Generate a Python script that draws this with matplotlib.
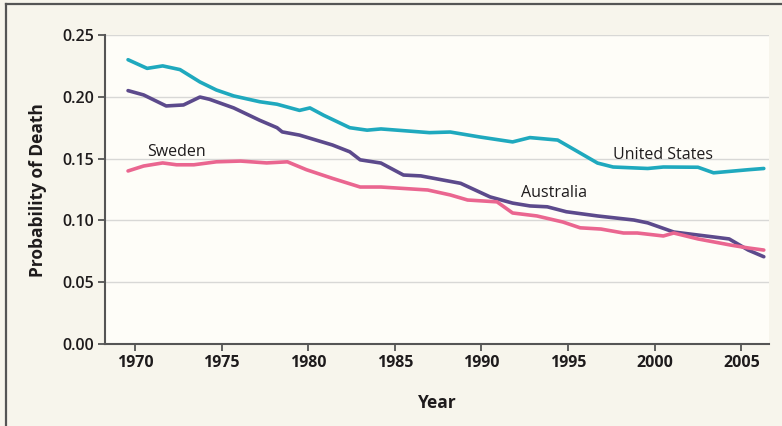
import matplotlib
matplotlib.use("Agg")
import matplotlib.pyplot as plt
from matplotlib.lines import Line2D

# ---- data ----
us_years = [1969.6, 1970.7, 1971.6, 1972.6, 1973.75, 1974.7, 1975.7, 1977.2, 1978.2, 1979.5,
            1980.1, 1980.9, 1982.4, 1983.4, 1984.2, 1987.0, 1988.2, 1989.9, 1991.8, 1992.8,
            1994.4, 1995.7, 1996.7, 1997.6, 1999.6, 2000.5, 2002.5, 2003.4, 2005.4, 2006.3]
us_vals = [0.230, 0.223, 0.225, 0.222, 0.212, 0.2055, 0.2007, 0.196, 0.194, 0.189,
           0.191, 0.185, 0.175, 0.173, 0.174, 0.171, 0.1715, 0.1675, 0.1635, 0.167,
           0.165, 0.1545, 0.1464, 0.1432, 0.142, 0.1432, 0.143, 0.1385, 0.141, 0.142]

au_years = [1969.6, 1970.5, 1971.8, 1972.8, 1973.75, 1974.3, 1975.7, 1977.2, 1978.2, 1978.5,
            1979.5, 1981.4, 1982.4, 1983.0, 1984.2, 1985.5, 1986.5, 1988.8, 1990.5, 1991.8,
            1992.8, 1993.8, 1994.9, 1996.7, 1998.8, 1999.6, 2001.1, 2003.4, 2004.3, 2005.4, 2006.3]
au_vals = [0.205, 0.2015, 0.1926, 0.1934, 0.1998, 0.198, 0.191, 0.181, 0.175, 0.1716,
           0.169, 0.161, 0.1555, 0.149, 0.1464, 0.1367, 0.136, 0.130, 0.119, 0.114,
           0.1117, 0.111, 0.107, 0.1036, 0.1003, 0.098, 0.0906, 0.0866, 0.085, 0.076, 0.0706]

se_years = [1969.6, 1970.5, 1971.6, 1972.4, 1973.4, 1974.7, 1976.1, 1977.6, 1978.8, 1979.9,
            1981.4, 1983.0, 1984.2, 1986.9, 1988.2, 1989.2, 1990.9, 1991.8, 1993.2, 1994.7,
            1995.7, 1996.9, 1998.2, 1999.0, 2000.5, 2001.1, 2002.5, 2004.4, 2005.4, 2006.3]
se_vals = [0.140, 0.144, 0.1465, 0.145, 0.145, 0.1474, 0.148, 0.1465, 0.1474, 0.141,
           0.134, 0.127, 0.127, 0.1246, 0.1206, 0.1165, 0.115, 0.106, 0.1036, 0.0987,
           0.094, 0.093, 0.0898, 0.0898, 0.0874, 0.0898, 0.085, 0.080, 0.0777, 0.076]

x_ticks = [1970, 1975, 1980, 1985, 1990, 1995, 2000, 2005]
y_ticks = [0.00, 0.05, 0.10, 0.15, 0.20, 0.25]
y_tick_labels = ["0.00", "0.05", "0.10", "0.15", "0.20", "0.25"]

labels = {"Sweden": (1972.4, 0.1553), "United States": (2000.5, 0.1530), "Australia": (1994.2, 0.1220)}

# ---- style ----
FIG_BG = "#f7f5ec"
AX_BG = "#fefdf8"
C_US = "#1fa9be"
C_AU = "#5c4a8c"
C_SE = "#ea6690"
TXT = "#1e1b1c"
FONT = ["Open Sans", "DejaVu Sans"]

plt.rcParams["font.family"] = FONT

fig = plt.figure(figsize=(7.82, 4.26), dpi=100, facecolor=FIG_BG)
ax = fig.add_axes([105/782, 1-344/426, (769-105)/782, (344-35)/426])
ax.set_facecolor(AX_BG)

# frame lines of the figure box (top and left)
fig.add_artist(Line2D([6/782, 1.0], [1-4/426, 1-4/426], transform=fig.transFigure, color="#555555", lw=1.6))
fig.add_artist(Line2D([6/782, 6/782], [0.0, 1-4/426], transform=fig.transFigure, color="#555555", lw=1.6))

for yv in y_ticks[1:]:
    ax.axhline(yv, color="#d8d8d6", lw=1.0, zorder=1)

lw = 2.6
ax.plot(us_years, us_vals, color=C_US, lw=lw, zorder=3, solid_capstyle="round", solid_joinstyle="round")
ax.plot(au_years, au_vals, color=C_AU, lw=lw, zorder=3, solid_capstyle="round", solid_joinstyle="round")
ax.plot(se_years, se_vals, color=C_SE, lw=lw, zorder=3, solid_capstyle="round", solid_joinstyle="round")

for name, (xv, yv) in labels.items():
    ax.text(xv, yv, name, ha="center", va="center", fontsize=11.5, fontweight="medium", color=TXT, zorder=4)

ax.set_xlim(1968.27, 2006.6)
ax.set_ylim(0, 0.25)
ax.set_xticks(x_ticks)
ax.set_xticklabels([str(v) for v in x_ticks], fontsize=11.5, fontweight="bold", color=TXT)
ax.set_yticks(y_ticks)
ax.set_yticklabels(y_tick_labels, fontsize=11.5, fontweight="semibold", color=TXT)

for s in ["top", "right"]:
    ax.spines[s].set_visible(False)
for s in ["left", "bottom"]:
    ax.spines[s].set_color("#555555")
    ax.spines[s].set_linewidth(1.5)
ax.tick_params(axis="both", direction="out", length=5, width=1.3, color="#555555", pad=3)

fig.text(437/782, 1-403/426, "Year", ha="center", va="center", fontsize=12.5, fontweight="bold", color=TXT)
fig.text(38/782, 1-190/426, "Probability of Death", ha="center", va="center", rotation=90,
         fontsize=12.5, fontweight="bold", color=TXT)

fig.savefig("out.png", dpi=100, facecolor=FIG_BG)
